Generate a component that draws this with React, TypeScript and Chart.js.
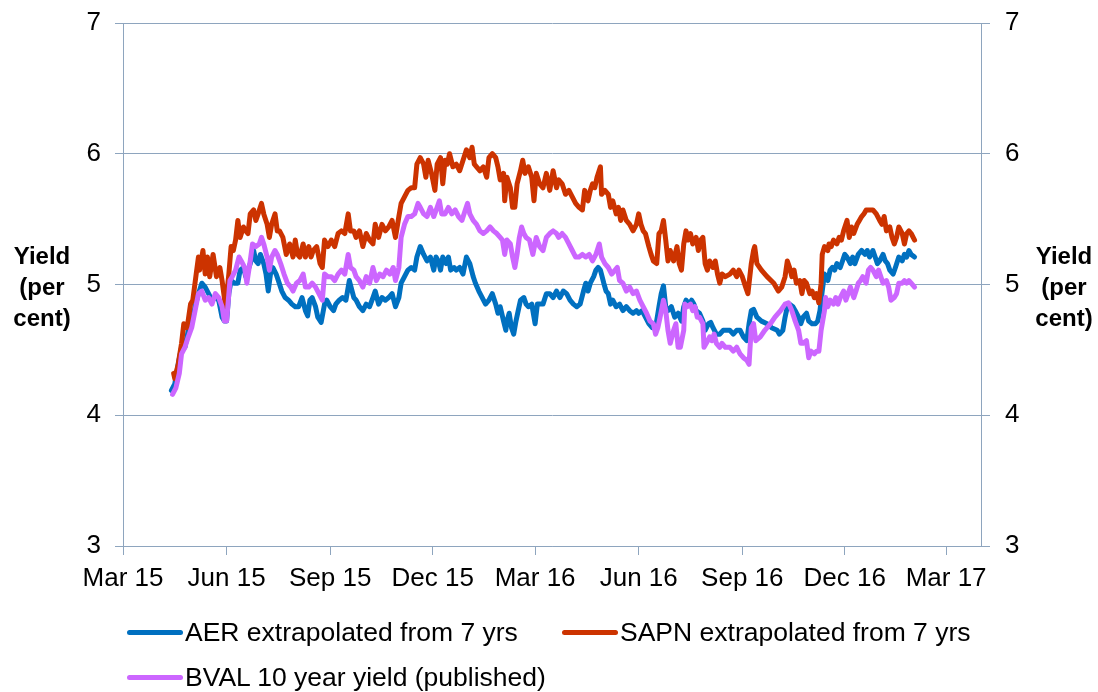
import React, { useEffect, useRef } from 'react';
import { Chart, registerables } from 'chart.js';

Chart.register(...registerables);

// x values are days since 1 March 2015
const aerSeries: [number, number][] = [
  [43,4.19],[46,4.24],[49,4.39],[52,4.52],[55,4.52],[58,4.65],[61,4.70],[64,4.83],[67,4.93],[70,5.01],
  [73,4.98],[76,4.93],[79,4.88],[82,4.90],[85,4.88],[88,4.75],[90,4.72],[92,4.72],[94,4.93],[96,5.03],
  [99,5.01],[102,5.01],[104,5.11],[107,5.13],[109,5.06],[111,5.11],[113,5.16],[116,5.26],[118,5.18],[120,5.16],
  [122,5.23],[125,5.16],[127,5.08],[129,4.95],[131,5.08],[133,5.13],[136,5.08],[138,5.03],[141,4.95],[144,4.90],
  [147,4.88],[150,4.85],[153,4.83],[156,4.83],[159,4.90],[162,4.80],[164,4.76],[166,4.88],[168,4.90],[171,4.83],
  [173,4.75],[176,4.71],[179,4.85],[181,4.88],[184,4.83],[187,4.80],[189,4.85],[192,4.88],[195,4.90],[198,4.88],
  [201,5.03],[205,4.90],[207,4.88],[210,4.83],[213,4.80],[216,4.85],[219,4.83],[222,4.90],[224,4.95],[227,4.85],
  [230,4.90],[233,4.88],[236,4.90],[239,4.93],[242,4.83],[245,4.90],[247,5.01],[250,5.06],[253,5.11],[256,5.13],
  [259,5.11],[261,5.21],[264,5.29],[267,5.23],[270,5.18],[273,5.21],[276,5.11],[278,5.21],[280,5.18],[282,5.11],
  [284,5.21],[287,5.16],[289,5.21],[291,5.11],[294,5.13],[296,5.11],[299,5.13],[302,5.08],[305,5.21],[308,5.16],
  [311,5.06],[313,5.01],[316,4.95],[319,4.90],[322,4.85],[325,4.88],[328,4.93],[331,4.85],[333,4.78],[335,4.83],
  [338,4.72],[340,4.65],[341,4.72],[343,4.78],[345,4.67],[347,4.62],[349,4.72],[351,4.80],[353,4.88],[356,4.90],
  [358,4.85],[360,4.83],[363,4.85],[366,4.70],[368,4.85],[370,4.85],[373,4.85],[376,4.93],[379,4.93],[382,4.90],
  [385,4.95],[388,4.90],[391,4.95],[394,4.93],[397,4.88],[400,4.85],[403,4.83],[406,4.85],[409,4.95],[411,5.01],
  [413,4.95],[415,5.01],[418,5.06],[420,5.11],[422,5.13],[424,5.11],[427,5.01],[429,4.95],[431,4.93],[433,4.85],
  [435,4.88],[438,4.83],[441,4.85],[444,4.80],[447,4.83],[450,4.80],[453,4.78],[456,4.80],[458,4.78],[461,4.80],
  [464,4.75],[467,4.70],[470,4.67],[473,4.67],[476,4.83],[478,4.93],[480,4.99],[482,4.83],[484,4.80],[487,4.83],
  [490,4.75],[493,4.78],[496,4.72],[498,4.83],[500,4.88],[503,4.85],[505,4.88],[507,4.85],[509,4.80],[512,4.78],
  [515,4.72],[517,4.65],[520,4.70],[522,4.71],[524,4.67],[527,4.62],[530,4.62],[533,4.65],[536,4.65],[539,4.65],
  [542,4.62],[545,4.65],[548,4.65],[551,4.60],[554,4.57],[556,4.70],[558,4.80],[560,4.81],[563,4.75],[567,4.72],
  [572,4.70],[576,4.67],[581,4.65],[583,4.62],[586,4.65],[588,4.75],[590,4.83],[592,4.85],[595,4.83],[597,4.80],
  [600,4.75],[602,4.70],[604,4.75],[607,4.78],[609,4.72],[612,4.70],[615,4.70],[617,4.72],[619,4.80],[621,4.95],
  [623,5.08],[626,5.03],[628,5.11],[630,5.13],[632,5.11],[634,5.16],[637,5.13],[639,5.18],[641,5.23],[643,5.21],
  [646,5.16],[648,5.21],[650,5.16],[653,5.23],[656,5.26],[659,5.23],[661,5.26],[663,5.21],[666,5.26],[668,5.21],
  [670,5.16],[672,5.18],[675,5.23],[677,5.18],[679,5.16],[681,5.11],[684,5.08],[686,5.13],[689,5.21],[692,5.18],
  [694,5.23],[696,5.21],[698,5.26],[700,5.23],[703,5.21],
];

const sapnSeries: [number, number][] = [
  [45,4.32],[46,4.28],[49,4.39],[52,4.55],[54,4.70],[57,4.67],[60,4.85],[62,4.88],[65,5.08],[67,5.21],
  [68,5.11],[71,5.26],[73,5.08],[75,5.21],[77,5.06],[80,5.23],[83,5.06],[86,5.13],[88,5.03],[90,4.90],
  [91,4.83],[94,5.08],[96,5.29],[98,5.26],[100,5.34],[102,5.49],[104,5.36],[107,5.44],[109,5.41],[111,5.39],
  [113,5.54],[116,5.57],[118,5.49],[120,5.54],[123,5.62],[125,5.54],[128,5.46],[130,5.36],[132,5.46],[135,5.54],
  [137,5.41],[139,5.41],[142,5.36],[145,5.23],[148,5.31],[151,5.21],[153,5.34],[155,5.23],[157,5.21],[160,5.31],
  [162,5.21],[165,5.29],[167,5.21],[169,5.26],[172,5.29],[175,5.16],[177,5.13],[179,5.34],[182,5.29],[185,5.34],
  [188,5.29],[191,5.39],[194,5.41],[197,5.39],[200,5.54],[202,5.41],[205,5.41],[207,5.36],[210,5.41],[213,5.29],
  [216,5.39],[219,5.34],[222,5.31],[224,5.46],[227,5.36],[230,5.46],[233,5.41],[236,5.44],[239,5.49],[242,5.36],
  [245,5.52],[247,5.62],[250,5.67],[253,5.72],[256,5.74],[259,5.74],[261,5.92],[264,5.97],[267,5.92],[269,5.82],
  [271,5.95],[274,5.85],[277,5.72],[279,5.92],[282,5.97],[284,5.77],[286,5.95],[288,5.92],[290,6.00],[293,5.90],
  [296,5.92],[299,5.87],[302,5.95],[305,6.03],[308,5.97],[310,6.05],[312,5.92],[314,5.90],[317,5.87],[320,5.90],
  [323,5.82],[325,5.97],[328,6.00],[331,5.97],[333,5.90],[335,5.80],[338,5.85],[339,5.64],[341,5.82],[344,5.74],
  [346,5.59],[348,5.59],[350,5.77],[353,5.87],[355,5.95],[357,5.85],[360,5.90],[363,5.82],[365,5.64],[367,5.85],
  [370,5.77],[373,5.74],[376,5.85],[379,5.72],[382,5.87],[385,5.74],[387,5.80],[390,5.77],[393,5.69],[396,5.72],
  [399,5.67],[402,5.62],[405,5.59],[408,5.57],[410,5.72],[413,5.64],[415,5.72],[417,5.77],[419,5.74],[421,5.82],
  [424,5.90],[425,5.69],[428,5.72],[431,5.69],[433,5.59],[435,5.64],[438,5.54],[440,5.59],[442,5.49],[444,5.57],
  [447,5.49],[450,5.46],[453,5.41],[456,5.46],[458,5.54],[460,5.46],[462,5.41],[464,5.39],[467,5.29],[469,5.23],
  [471,5.18],[474,5.16],[476,5.39],[478,5.41],[480,5.49],[482,5.34],[484,5.18],[486,5.26],[489,5.18],[492,5.29],
  [494,5.16],[496,5.11],[498,5.31],[500,5.41],[502,5.34],[504,5.39],[506,5.31],[509,5.36],[511,5.26],[513,5.34],
  [515,5.36],[517,5.16],[519,5.11],[521,5.18],[524,5.13],[526,5.18],[528,5.08],[530,5.01],[532,5.08],[535,5.06],
  [539,5.08],[542,5.11],[545,5.06],[547,5.11],[550,5.06],[553,4.98],[555,4.93],[558,5.16],[560,5.26],[561,5.29],
  [563,5.16],[567,5.11],[572,5.06],[578,5.01],[582,4.95],[585,4.98],[588,5.06],[590,5.18],[592,5.13],[594,5.06],
  [596,5.11],[598,5.01],[601,5.03],[603,4.93],[605,5.03],[607,5.01],[610,4.93],[612,4.95],[614,4.90],[616,4.93],
  [618,4.86],[620,5.01],[621,5.23],[623,5.29],[626,5.26],[627,5.31],[629,5.29],[631,5.34],[634,5.31],[636,5.36],
  [638,5.34],[640,5.41],[643,5.49],[645,5.36],[647,5.44],[649,5.39],[652,5.46],[654,5.49],[656,5.52],[658,5.54],
  [660,5.57],[663,5.57],[666,5.57],[669,5.54],[672,5.49],[674,5.46],[676,5.52],[678,5.41],[681,5.44],[683,5.36],
  [685,5.31],[687,5.36],[689,5.44],[692,5.39],[694,5.31],[696,5.39],[698,5.41],[700,5.39],[703,5.34],
];

const bvalSeries: [number, number][] = [
  [44,4.16],[47,4.21],[50,4.32],[52,4.47],[55,4.52],[58,4.60],[61,4.67],[64,4.80],[67,4.93],[70,4.95],
  [73,4.88],[76,4.90],[79,4.85],[82,4.93],[85,4.90],[88,4.83],[90,4.72],[92,4.72],[95,5.03],[97,5.06],
  [100,5.11],[103,5.21],[105,5.18],[108,5.13],[110,5.01],[113,5.18],[115,5.31],[118,5.29],[121,5.31],[123,5.36],
  [125,5.31],[128,5.21],[130,5.11],[132,5.21],[135,5.26],[137,5.23],[140,5.16],[143,5.08],[146,5.01],[149,4.98],
  [151,4.95],[154,5.01],[157,5.03],[160,5.08],[162,4.98],[165,4.98],[168,5.01],[171,4.98],[174,4.93],[177,4.88],
  [179,5.08],[182,5.06],[185,5.06],[188,5.03],[191,5.08],[194,5.11],[197,5.08],[200,5.23],[202,5.13],[205,5.11],
  [207,5.06],[210,5.03],[213,4.98],[216,5.06],[219,5.01],[222,5.13],[225,5.03],[228,5.08],[231,5.06],[234,5.11],
  [237,5.08],[240,5.13],[242,5.03],[245,5.13],[247,5.36],[250,5.46],[253,5.52],[256,5.52],[259,5.54],[262,5.62],
  [264,5.59],[267,5.54],[270,5.52],[273,5.59],[276,5.52],[279,5.59],[281,5.64],[283,5.54],[286,5.54],[289,5.59],
  [292,5.54],[295,5.57],[298,5.52],[301,5.49],[304,5.57],[306,5.62],[308,5.54],[311,5.49],[314,5.46],[317,5.41],
  [320,5.39],[323,5.41],[326,5.44],[329,5.41],[332,5.39],[335,5.36],[337,5.34],[339,5.23],[341,5.34],[344,5.31],
  [346,5.21],[348,5.13],[350,5.23],[352,5.36],[354,5.44],[356,5.39],[358,5.36],[361,5.34],[364,5.23],[367,5.36],
  [370,5.29],[373,5.26],[376,5.36],[379,5.39],[382,5.41],[385,5.39],[387,5.36],[390,5.39],[393,5.36],[396,5.31],
  [399,5.26],[402,5.21],[405,5.21],[408,5.23],[411,5.21],[414,5.23],[417,5.18],[420,5.23],[423,5.31],[425,5.21],
  [428,5.16],[431,5.13],[434,5.08],[437,5.11],[439,5.13],[441,5.03],[444,5.01],[447,4.95],[450,4.98],[453,4.93],
  [456,4.95],[459,4.88],[462,4.83],[465,4.78],[468,4.72],[471,4.70],[473,4.62],[475,4.67],[477,4.75],[480,4.88],
  [482,4.80],[484,4.65],[486,4.55],[489,4.65],[491,4.70],[493,4.52],[495,4.52],[498,4.65],[499,4.85],[501,4.83],
  [504,4.85],[506,4.80],[508,4.83],[510,4.75],[512,4.75],[515,4.70],[516,4.52],[518,4.55],[521,4.60],[523,4.57],
  [525,4.62],[527,4.55],[530,4.52],[532,4.55],[535,4.52],[539,4.52],[542,4.49],[545,4.52],[548,4.47],[551,4.44],
  [554,4.42],[556,4.39],[558,4.67],[560,4.70],[562,4.57],[566,4.60],[570,4.65],[575,4.70],[579,4.75],[584,4.80],
  [588,4.85],[591,4.86],[594,4.80],[597,4.72],[600,4.65],[602,4.55],[604,4.55],[607,4.57],[609,4.44],[611,4.49],
  [614,4.47],[616,4.49],[618,4.49],[620,4.65],[623,4.80],[624,4.90],[626,4.83],[628,4.88],[631,4.85],[633,4.90],
  [635,4.85],[637,4.90],[640,4.95],[642,4.88],[644,4.93],[646,4.98],[649,4.90],[651,4.95],[653,5.01],[655,5.03],
  [657,5.06],[660,5.01],[662,5.11],[664,5.13],[666,5.11],[669,5.06],[671,5.11],[673,5.06],[675,5.01],[678,5.03],
  [680,4.98],[682,4.88],[685,4.90],[687,4.93],[689,5.01],[692,5.01],[694,5.03],[696,5.01],[698,5.03],[700,5.01],
  [703,4.98],
];

const seriesLabels = [
  'AER extrapolated from 7 yrs',
  'SAPN extrapolated from 7 yrs',
  'BVAL 10 year yield (published)',
];
const seriesColors = ['#0070C0', '#CC3300', '#CC66FF'];

const xTickDates = ['2015-03-01', '2015-06-01', '2015-09-01', '2015-12-01', '2016-03-01', '2016-06-01', '2016-09-01', '2016-12-01', '2017-03-01'];
const xTickLabels = ['Mar 15', 'Jun 15', 'Sep 15', 'Dec 15', 'Mar 16', 'Jun 16', 'Sep 16', 'Dec 16', 'Mar 17'];
const xAxisStart = '2015-03-01';
const xAxisEnd = '2017-04-01';
const yTicks = [3, 4, 5, 6, 7];
const yAxisTitle = ['Yield', '(per', 'cent)'];

const FONT = '"Liberation Sans", Arial, Helvetica, sans-serif';
const GRID = '#8EA5BE';

function dayOf(s: string): number {
  const [y, m, d] = s.split('-').map(Number);
  return Math.round((Date.UTC(y, m - 1, d) - Date.UTC(2015, 2, 1)) / 86400000);
}

function toPoints(series: [number, number][]) {
  return series.map(([x, y]) => ({ x, y }));
}

export default function App() {
  const canvasRef = useRef<HTMLCanvasElement | null>(null);

  useEffect(() => {
    const canvas = canvasRef.current;
    if (!canvas) return;
    const allSeries = [aerSeries, sapnSeries, bvalSeries];
    const orders = [3, 2, 1];
    const yAxisCommon = (width: number, tickLength: number, padding: number, onArea: boolean) => ({
      type: 'linear' as const,
      min: 3,
      max: 7,
      afterBuildTicks: (s: any) => {
        s.ticks = yTicks.map((v) => ({ value: v }));
      },
      afterFit: (s: any) => {
        s.width = width;
        s.paddingTop = 0;
        s.paddingBottom = 0;
      },
      ticks: {
        padding,
        color: '#000',
        font: { family: FONT, size: 26 },
      },
      grid: {
        drawOnChartArea: onArea,
        drawTicks: true,
        tickLength,
        color: GRID,
        lineWidth: 1,
      },
      border: { display: true, color: GRID, width: 1 },
    });

    const chart = new Chart(canvas, {
      type: 'line',
      data: {
        datasets: allSeries.map((s, i) => ({
          label: seriesLabels[i],
          data: toPoints(s),
          borderColor: seriesColors[i],
          backgroundColor: seriesColors[i],
          borderWidth: 5,
          pointRadius: 0,
          pointHoverRadius: 0,
          tension: 0,
          fill: false,
          borderJoinStyle: 'round' as const,
          borderCapStyle: 'round' as const,
          order: orders[i],
        })),
      },
      options: {
        responsive: false,
        maintainAspectRatio: false,
        animation: false,
        events: [],
        layout: { padding: { top: 23, left: 0, right: 0, bottom: 0 } },
        plugins: {
          legend: { display: false },
          tooltip: { enabled: false },
          title: { display: false },
        },
        scales: {
          x: {
            type: 'linear',
            position: 'bottom',
            min: dayOf(xAxisStart),
            max: dayOf(xAxisEnd),
            afterBuildTicks: (s: any) => {
              s.ticks = xTickDates.map((d) => ({ value: dayOf(d) }));
            },
            afterFit: (s: any) => {
              s.height = 146;
              s.paddingLeft = 0;
              s.paddingRight = 0;
            },
            ticks: {
              autoSkip: false,
              maxRotation: 0,
              minRotation: 0,
              padding: 8,
              color: '#000',
              font: { family: FONT, size: 26 },
              callback: (_v: any, i: number) => xTickLabels[i],
            },
            grid: {
              drawOnChartArea: false,
              drawTicks: true,
              tickLength: 9,
              color: GRID,
            },
            border: { display: true, color: GRID, width: 1 },
          },
          y: { position: 'left', ...yAxisCommon(123, 8, 14, true) },
          y2: { position: 'right', ...yAxisCommon(117, 9, 15, false) },
        },
      },
    } as any);
    return () => chart.destroy();
  }, []);

  const titleStyle = (centerX: number): React.CSSProperties => ({
    position: 'absolute',
    left: centerX - 50,
    width: 100,
    top: 240,
    textAlign: 'center',
    fontFamily: FONT,
    fontWeight: 'bold',
    fontSize: 24,
    lineHeight: '31px',
    color: '#000',
  });

  const legendItem = (i: number, left: number, top: number) => (
    <div
      key={i}
      style={{
        position: 'absolute',
        left,
        top,
        height: 40,
        display: 'flex',
        alignItems: 'center',
        whiteSpace: 'nowrap',
      }}
    >
      <span style={{ display: 'inline-block', width: 56, height: 5, borderRadius: 2.5, background: seriesColors[i] }} />
      <span style={{ marginLeft: 2, fontFamily: FONT, fontSize: 26.5, color: '#000' }}>{seriesLabels[i]}</span>
    </div>
  );

  return (
    <div style={{ position: 'fixed', left: 0, top: 0, width: 1098, height: 692, background: '#fff', overflow: 'hidden' }}>
      <canvas ref={canvasRef} width={1098} height={692} style={{ position: 'absolute', left: 0, top: 0, width: 1098, height: 692 }} />
      <div style={titleStyle(42)}>
        {yAxisTitle.map((t) => (
          <div key={t}>{t}</div>
        ))}
      </div>
      <div style={titleStyle(1064)}>
        {yAxisTitle.map((t) => (
          <div key={t}>{t}</div>
        ))}
      </div>
      {legendItem(0, 127, 612)}
      {legendItem(1, 562, 612)}
      {legendItem(2, 127, 657)}
    </div>
  );
}
